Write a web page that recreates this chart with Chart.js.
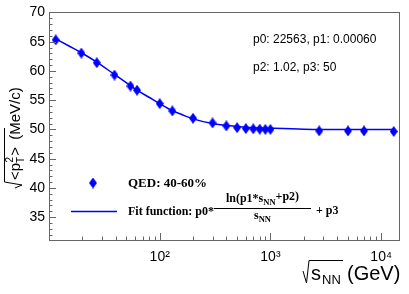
<!DOCTYPE html>
<html><head><meta charset="utf-8">
<script src="https://cdn.jsdelivr.net/npm/chart.js@4/dist/chart.umd.min.js"></script>
<style>html,body{margin:0;padding:0;background:#fff;}canvas{display:block;}</style>
</head><body>
<canvas id="c" width="409" height="294"></canvas>
<script>
// ---- data ----
const energies = [11.5, 19.6, 27, 39, 54.4, 62.4, 100, 130, 200, 300, 400, 500, 600, 700, 800, 900, 1000, 2760, 5020, 7000, 13000];
const meanPt   = [65.3, 63.05, 61.4, 59.3, 57.4, 56.7, 54.4, 53.15, 51.9, 51.1, 50.6, 50.3, 50.15, 50.1, 50.05, 50.0, 50.0, 49.75, 49.75, 49.75, 49.65];
const fitX = [11.5, 15, 19.6, 27, 39, 54.4, 62.4, 80, 100, 130, 160, 200, 300, 400, 500, 700, 1000, 2000, 5000, 13000];
const fitY = [65.5, 64.3, 63.1, 61.5, 59.4, 57.5, 56.7, 55.5, 54.4, 53.2, 52.5, 51.8, 51.0, 50.7, 50.5, 50.3, 50.2, 50.05, 50.0, 50.0];
const yTickValues = [35, 40, 45, 50, 55, 60, 65, 70];
const xTickValues = [100, 1000, 10000];
const xTickLabels = ['10\u00B2', '10\u00B3', '10\u2074'];
const seriesLabel = 'QED: 40-60%';
const fitLabel = 'Fit function: p0*';
const paramLines = ['p0: 22563, p1: 0.00060', 'p2: 1.02, p3: 50'];

const BLUE = '#0000ff';
const SANS = '"Liberation Sans", Arial, sans-serif';
const SERIF = '"Liberation Serif", "Times New Roman", serif';

// diamond marker
const dia = document.createElement('canvas');
dia.width = 8; dia.height = 11;
(function(){const g=dia.getContext('2d');g.fillStyle=BLUE;g.beginPath();g.moveTo(4,0);g.lineTo(8,5.5);g.lineTo(4,11);g.lineTo(0,5.5);g.closePath();g.fill();})();

const decor = {
  id: 'decor',
  afterDraw(chart) {
    const ctx = chart.ctx, a = chart.chartArea;
    const xs = chart.scales.x, ys = chart.scales.y;
    ctx.save();
    // ticks
    ctx.strokeStyle = '#666'; ctx.lineWidth = 1;
    ctx.beginPath();
    for (let v = 32; v <= 70; v++) {
      const y = Math.round(ys.getPixelForValue(v)) + 0.5;
      const len = (v % 5 === 0) ? 7 : 3.5;
      ctx.moveTo(a.left, y); ctx.lineTo(a.left + len, y);
    }
    for (let d = 10; d <= 10000; d *= 10) {
      for (let m = 1; m <= 9; m++) {
        const v = d * m;
        if (v <= xs.min || v >= xs.max) continue;
        const x = Math.round(xs.getPixelForValue(v)) + 0.5;
        const len = (m === 1) ? 7 : 3.5;
        ctx.moveTo(x, a.bottom); ctx.lineTo(x, a.bottom - len);
      }
    }
    ctx.stroke();
    // frame
    ctx.strokeStyle = '#666';
    ctx.strokeRect(Math.round(a.left) + 0.5, Math.round(a.top) + 0.5, Math.round(a.right - a.left), Math.round(a.bottom - a.top));

    // parameter text
    ctx.fillStyle = '#000';
    ctx.font = '12px ' + SANS;
    ctx.textBaseline = 'middle'; ctx.textAlign = 'left';
    ctx.fillText(paramLines[0], 253, 40);
    ctx.fillText(paramLines[1], 253, 68);

    // legend
    ctx.drawImage(dia, 93 - 4, 183 - 5.5);
    ctx.font = 'bold 13px ' + SERIF;
    ctx.fillText(seriesLabel, 128, 184);
    ctx.strokeStyle = BLUE; ctx.lineWidth = 1.5;
    ctx.beginPath(); ctx.moveTo(71, 211.5); ctx.lineTo(117, 211.5); ctx.stroke();
    ctx.font = 'bold 12px ' + SERIF;
    ctx.fillText(fitLabel, 128, 212);
    // fraction
    const barL = 214, barR = 311, cx = (barL + barR) / 2;
    const big = 'bold 12px ' + SERIF, sub = 'bold 8.5px ' + SERIF;
    ctx.font = big; const w1 = ctx.measureText('ln(p1*s').width, w3 = ctx.measureText('+p2)').width, ws = ctx.measureText('s').width;
    ctx.font = sub; const w2 = ctx.measureText('NN').width;
    let x0 = cx - (w1 + w2 + w3) / 2;
    ctx.font = big; ctx.fillText('ln(p1*s', x0, 199);
    ctx.font = sub; ctx.fillText('NN', x0 + w1, 203);
    ctx.font = big; ctx.fillText('+p2)', x0 + w1 + w2, 197);
    ctx.strokeStyle = '#000'; ctx.lineWidth = 1;
    ctx.beginPath(); ctx.moveTo(barL, 208.5); ctx.lineTo(barR, 208.5); ctx.stroke();
    x0 = cx - (ws + w2) / 2;
    ctx.font = big; ctx.fillText('s', x0, 216);
    ctx.font = sub; ctx.fillText('NN', x0 + ws, 220);
    ctx.font = big; ctx.fillText('+ p3', 316, 211);

    // x title
    ctx.strokeStyle = '#000'; ctx.lineWidth = 1;
    ctx.beginPath();
    ctx.moveTo(303, 271); ctx.lineTo(306.5, 283); ctx.lineTo(309, 260.5); ctx.lineTo(343, 260.5);
    ctx.stroke();
    ctx.font = '20px ' + SANS; ctx.textBaseline = 'alphabetic';
    ctx.fillText('s', 311, 280);
    ctx.font = '13px ' + SANS;
    ctx.fillText('NN', 322, 284);
    ctx.font = '20px ' + SANS;
    ctx.fillText('(GeV)', 347, 280);

    // y title (rotated)
    ctx.translate(15, 188);
    ctx.rotate(-Math.PI / 2);
    ctx.beginPath();
    ctx.moveTo(0, 0); ctx.lineTo(3, 7); ctx.lineTo(6, -10.5); ctx.lineTo(60, -10.5);
    ctx.stroke();
    ctx.textBaseline = 'alphabetic';
    ctx.font = '15px ' + SANS;
    let lx = 8;
    ctx.fillText('<p', lx, 5); lx += ctx.measureText('<p').width;
    ctx.font = '10px ' + SANS;
    ctx.fillText('2', lx + 0.5, -2);
    ctx.fillText('T', lx, 9);
    lx += ctx.measureText('T').width + 1;
    ctx.font = '15px ' + SANS;
    ctx.fillText('>', lx, 5); lx += ctx.measureText('>').width;
    ctx.fillText(' (MeV/c)', lx + 3, 5);
    ctx.restore();
  }
};

new Chart(document.getElementById('c'), {
  type: 'scatter',
  data: {
    datasets: [
      { label: seriesLabel, data: energies.map((e, i) => ({x: e, y: meanPt[i]})),
        pointStyle: dia, pointRadius: 5, showLine: false, order: 0 },
      { label: 'fit', data: fitX.map((e, i) => ({x: e, y: fitY[i]})),
        showLine: true, pointRadius: 0, borderColor: BLUE, borderWidth: 1.5, tension: 0.4, cubicInterpolationMode: 'monotone', order: 1 }
    ]
  },
  options: {
    responsive: false, animation: false,
    layout: { padding: { left: 0, top: 5, right: 10, bottom: 0 } },
    plugins: { legend: { display: false }, tooltip: { enabled: false } },
    scales: {
      x: {
        type: 'logarithmic', min: 10, max: 14500,
        grid: { display: false, drawTicks: false }, border: { display: false },
        afterBuildTicks: s => { s.ticks = xTickValues.map(v => ({ value: v })); },
        afterFit: s => { s.height = 54; },
        ticks: { autoSkip: false, maxRotation: 0, padding: 9, color: '#000',
          font: { family: SANS, size: 14 },
          callback: (v) => { const i = xTickValues.indexOf(v); return i >= 0 ? xTickLabels[i] : ''; } }
      },
      y: {
        min: 31.1, max: 70,
        grid: { display: false, drawTicks: false }, border: { display: false },
        afterBuildTicks: s => { s.ticks = yTickValues.map(v => ({ value: v })); },
        afterFit: s => { s.width = 49; },
        ticks: { padding: 4, color: '#000', font: { family: SANS, size: 14 } }
      }
    }
  },
  plugins: [decor]
});
</script>
</body></html>
